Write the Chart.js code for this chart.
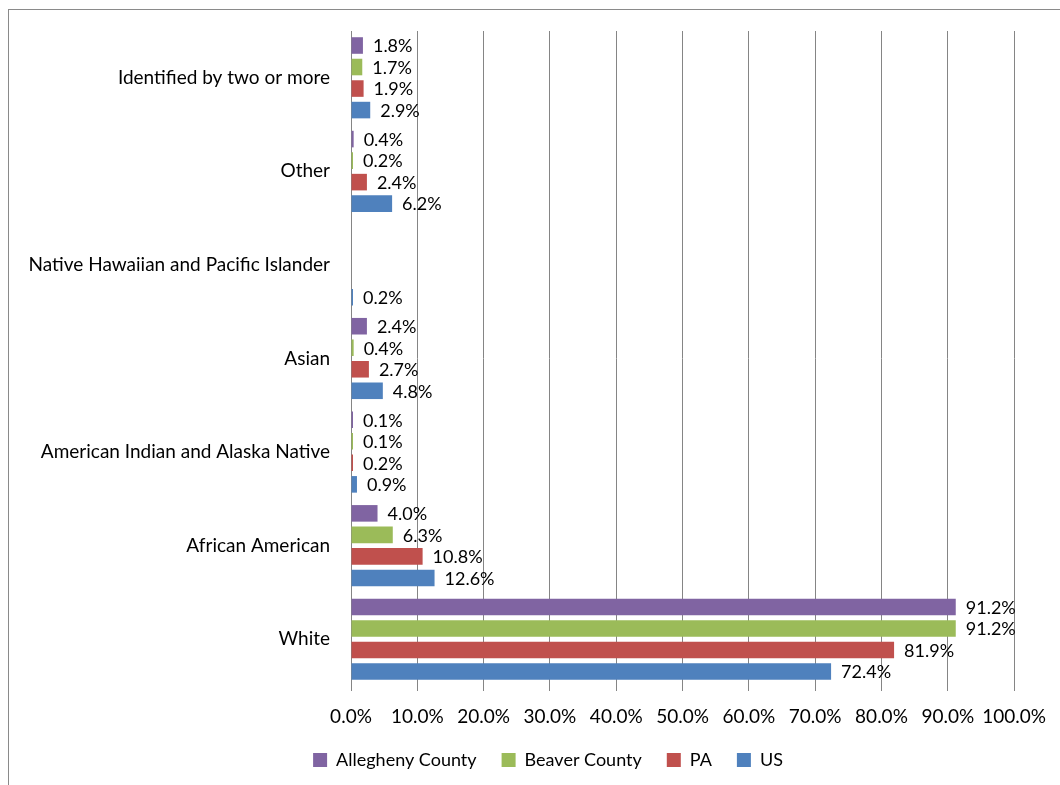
<!DOCTYPE html>
<html>
<head>
<meta charset="utf-8">
<script src="https://cdn.jsdelivr.net/npm/chart.js@4"></script>
<style>
  body { margin: 0; background: #fff; }
  #frame { position: absolute; left: 8px; top: 9px; width: 1060px; height: 785px;
           border-top: 1px solid #8a8a8a; border-left: 1px solid #8a8a8a; }
  #chart { position: absolute; left: 0; top: 0; }
</style>
</head>
<body>
<div id="frame"></div>
<canvas id="chart" width="1060" height="785"></canvas>
<script>
// Categories (top to bottom as drawn)
const groups = [
    "Identified by two or more",
    "Other",
    "Native Hawaiian and Pacific Islander",
    "Asian",
    "American Indian and Alaska Native",
    "African American",
    "White"
];

// Percent values per area
const allegheny = [1.8, 0.4, null, 2.4, 0.1, 4.0, 91.2];
const beaver    = [1.7, 0.2, null, 0.4, 0.1, 6.3, 91.2];
const pa        = [1.9, 2.4, null, 2.7, 0.2, 10.8, 81.9];
const us        = [2.9, 6.2, 0.2, 4.8, 0.9, 12.6, 72.4];

// Axis ticks
const tickValues = [0, 10, 20, 30, 40, 50, 60, 70, 80, 90, 100];

const font = "Lato";

// Draws the value at the end of each bar
const barLabels = {
    id: "barLabels",
    afterDatasetsDraw(chart) {
        const ctx = chart.ctx;
        ctx.save();
        ctx.font = "18px " + font;
        ctx.fillStyle = "#000";
        ctx.textAlign = "left";
        ctx.textBaseline = "middle";
        chart.data.datasets.forEach((ds, i) => {
            chart.getDatasetMeta(i).data.forEach((bar, j) => {
                const v = ds.data[j];
                if (v === null) return;
                ctx.fillText(v.toFixed(1) + "%", bar.x + 10, bar.y + 1);
            });
        });
        ctx.restore();
    }
};

// nudge the legend a little, Excel had it slightly off centre
const legendShift = {
    id: "legendShift",
    afterLayout(chart) {
        const lg = chart.legend;
        const shift = 548 - (lg.left + lg.right) / 2;
        lg.left += shift;
        lg.right += shift;
    }
};

const chart = new Chart(document.getElementById("chart"), {
    type: "bar",
    data: {
        labels: groups,
        datasets: [
            { label: "Allegheny County", data: allegheny, backgroundColor: "#8064A2" },
            { label: "Beaver County", data: beaver, backgroundColor: "#9BBB59" },
            { label: "PA", data: pa, backgroundColor: "#C0504D" },
            { label: "US", data: us, backgroundColor: "#4F81BD" }
        ]
    },
    options: {
        indexAxis: "y",
        responsive: false,
        animation: false,
        categoryPercentage: 0.92,
        barPercentage: 0.77,
        minBarLength: 2,
        layout: { padding: { left: 10, top: 31, right: 43, bottom: 6 } },
        plugins: {
            legend: {
                position: "bottom",
                labels: {
                    font: { family: font, size: 18 },
                    color: "#000",
                    boxWidth: 14,
                    boxHeight: 14,
                    padding: 25
                }
            },
            tooltip: { enabled: false }
        },
        scales: {
            x: {
                min: 0,
                max: 100,
                afterBuildTicks: (scale) => {
                    scale.ticks = tickValues.map(v => ({ value: v }));
                },
                afterFit: (scale) => { scale.height = 40; },
                ticks: {
                    callback: (v) => Number(v).toFixed(1) + "%",
                    font: { family: font, size: 19 },
                    color: "#000",
                    padding: 14,
                    autoSkip: false,
                    maxRotation: 0
                },
                grid: { color: "#858585", lineWidth: 1, tickLength: 5 },
                border: { display: false }
            },
            y: {
                afterFit: (scale) => { scale.width = 341; },
                ticks: {
                    font: { family: font, size: 19 },
                    color: "#000",
                    padding: 13
                },
                grid: { display: false },
                border: { display: true, color: "#858585", width: 1 }
            }
        }
    },
    plugins: [barLabels, legendShift]
});
</script>
</body>
</html>
